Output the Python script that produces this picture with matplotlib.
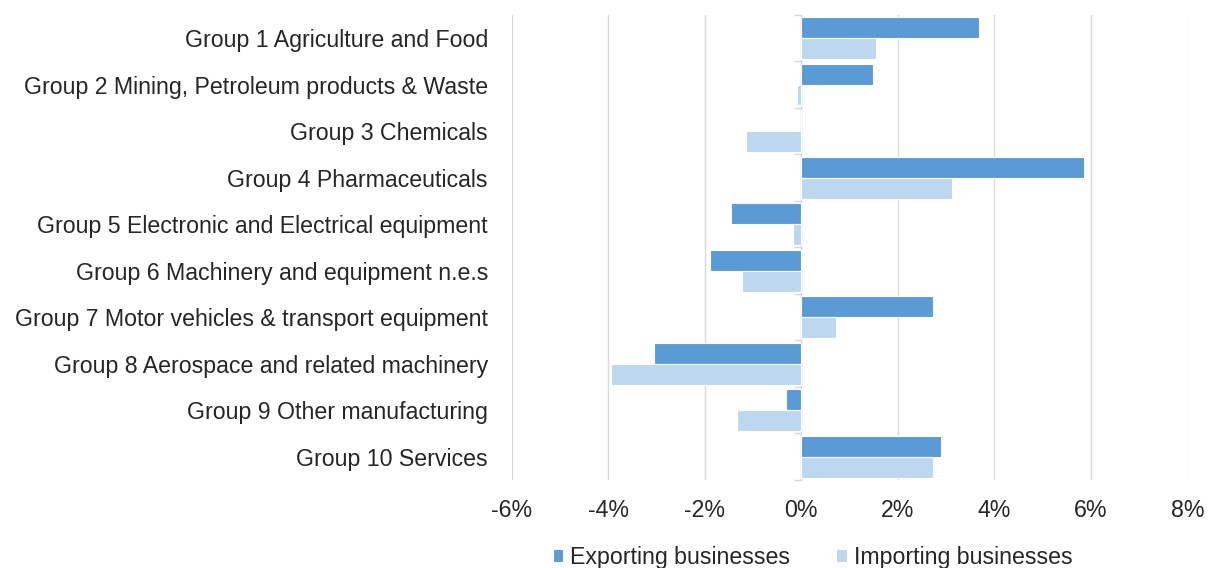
import numpy as np
import matplotlib.pyplot as plt
from matplotlib.ticker import FuncFormatter

plt.rcParams['font.family'] = ['Liberation Sans', 'DejaVu Sans']

# Datos
grupos = ['Group 1 Agriculture and Food',
          'Group 2 Mining, Petroleum products & Waste',
          'Group 3 Chemicals',
          'Group 4 Pharmaceuticals',
          'Group 5 Electronic and Electrical equipment',
          'Group 6 Machinery and equipment n.e.s',
          'Group 7 Motor vehicles & transport equipment',
          'Group 8 Aerospace and related machinery',
          'Group 9 Other manufacturing',
          'Group 10 Services']
exportadores = [3.69, 1.49, 0.0, 5.86, -1.46, -1.90, 2.72, -3.06, -0.32, 2.89]
importadores = [1.55, -0.09, -1.15, 3.13, -0.18, -1.23, 0.71, -3.94, -1.33, 2.72]
ticks_x = [-6, -4, -2, 0, 2, 4, 6, 8]

fig = plt.figure(figsize=(12.18, 5.68), dpi=100)
ax = fig.add_axes([0.420, 0.155, 0.555, 0.819])

y = np.arange(len(grupos))
alto = 0.45
ax.barh(y - alto / 2, exportadores, height=alto, color='#5B9BD5',
        edgecolor='white', linewidth=0.8, label='Exporting businesses', zorder=3)
ax.barh(y + alto / 2, importadores, height=alto, color='#BDD7EE',
        edgecolor='white', linewidth=0.8, label='Importing businesses', zorder=3)

ax.set_xlim(-6, 8)
ax.set_ylim(len(grupos) - 0.5, -0.5)
ax.set_xticks(ticks_x)
ax.xaxis.set_major_formatter(FuncFormatter(lambda v, p: f'{v:.0f}%'))
ax.set_yticks(y)
ax.set_yticklabels(grupos)
ax.tick_params(axis='both', length=0, labelsize=16.7, colors='#262626')
ax.tick_params(axis='y', pad=17)
ax.tick_params(axis='x', pad=14)
ax.grid(axis='x', color='#D9D9D9', linewidth=1, zorder=0)
for s in ax.spines.values():
    s.set_visible(False)

# Eje vertical en cero con marcas entre categorias
eje = ax.secondary_yaxis(6 / 14)
eje.set_yticks(np.arange(len(grupos) + 1) - 0.5)
eje.set_yticklabels([])
eje.tick_params(length=5, color='#D9D9D9', width=1)
eje.spines['left'].set_color('#D9D9D9')

fig.legend(loc='lower center', bbox_to_anchor=(0.667, -0.038), ncol=2,
           frameon=False, fontsize=16.7, handlelength=0.45, handleheight=0.45,
           handletextpad=0.3, columnspacing=2.0, labelcolor='#262626')

plt.savefig('out.png', dpi=100)
